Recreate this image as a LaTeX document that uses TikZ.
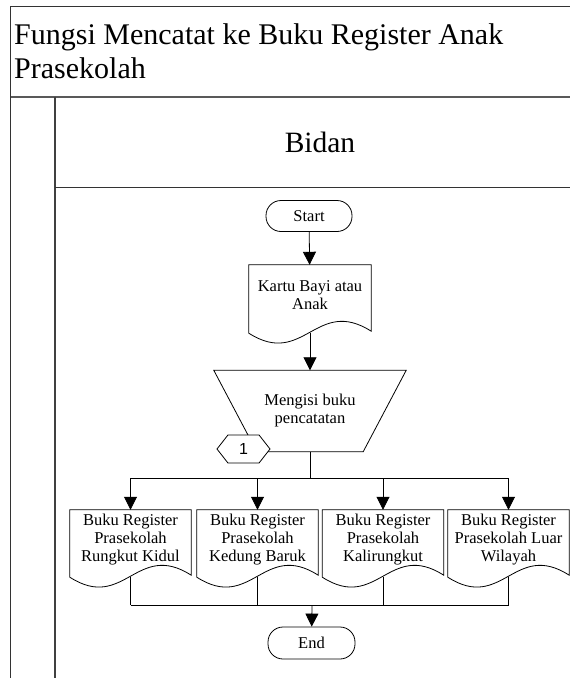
\documentclass[tikz,border=0pt]{standalone}
\usepackage{fontspec}
\setmainfont{Liberation Serif}
\newfontfamily\arialfont{Liberation Sans}
\usetikzlibrary{arrows.meta,calc,shapes.symbols}
\newcommand\docoutline[1]{%
  \draw[flow] (#1.north west) -- (#1.north east) -- ([yshift=-6pt]#1.south east)
    .. controls ($(#1.south west)!0.55!(#1.south east)+(0,29pt)$) and ($(#1.south west)!0.45!(#1.south east)+(0,-43pt)$) ..
    ([yshift=-8pt]#1.south west) -- cycle;}
\begin{document}
\begin{tikzpicture}[x=1pt,y=-1pt,
  frameline/.style={draw=black!80, line width=1pt},
  flow/.style={draw=black, line width=0.8pt},
  arr/.style={-{Triangle[width=13pt,length=13pt]}, draw=black, line width=0.8pt},
  txt/.style={font=\fontsize{16.5}{18}\selectfont, align=center},
  term/.style={txt, draw, line width=0.8pt, rounded corners=15pt, inner sep=0pt},
  docbox/.style={txt, inner sep=0pt, minimum width=121pt}
]
\useasboundingbox (0,0) rectangle (570,678);
% frame
\draw[frameline] (10.5,678) -- (10.5,6.5) -- (570,6.5);
\draw[draw=black!65, line width=2pt] (10.5,96.5) -- (570,96.5);
\draw[draw=black!75, line width=1.5pt] (55,96.5) -- (55,678);
\draw[frameline] (55,187) -- (570,187);
\node[anchor=north west, inner sep=0pt, align=left, font=\fontsize{30}{34}\selectfont] (title) at (14,23) {Fungsi Mencatat ke Buku Register Anak\\Prasekolah};
\node[font=\fontsize{29.5}{32}\selectfont] (bidan) at (320,142) {Bidan};
% flow
\node[term, minimum width=86pt, minimum height=31pt] (start) at (309,216) {Start};
\node[docbox, minimum height=60pt, minimum width=122pt] (kartu) at (310,295) {Kartu Bayi atau\\Anak};
\docoutline{kartu}
\node[txt, inner sep=0pt, minimum width=192pt, minimum height=81pt] (isi) at (310,411) {Mengisi buku\\pencatatan};
\draw[flow] (isi.north west) -- (isi.north east) -- ([xshift=-43pt]isi.south east) -- ([xshift=43pt]isi.south west) -- cycle;
\node[signal, signal to=west and east, signal pointer angle=104, draw, fill=white, line width=0.8pt, inner sep=0pt, minimum width=53pt, minimum height=28pt, font=\arialfont\fontsize{16}{18}\selectfont] (c1) at (243.5,449) {1};
\draw[arr] (start) -- (kartu);
\draw[arr] ([yshift=-8pt]kartu.south) -- (isi);
% documents
\node[docbox, minimum height=59pt] (d1) at (130.5,539.5) {Buku Register\\Prasekolah\\Rungkut Kidul};
\node[docbox, minimum height=59pt] (d2) at (257.5,539.5) {Buku Register\\Prasekolah\\Kedung Baruk};
\node[docbox, minimum height=59pt] (d3) at (383,539.5) {Buku Register\\Prasekolah\\Kalirungkut};
\node[docbox, minimum height=59pt] (d4) at (508.5,539.5) {Buku Register\\Prasekolah Luar\\Wilayah};
\foreach \d in {d1,d2,d3,d4} {\docoutline{\d}}
\coordinate (split) at (310,478);
\draw[flow] (isi.south) -- (split);
\draw[flow] (d1.north |- split) -- (d4.north |- split);
\foreach \d in {d1,d2,d3,d4} {\draw[arr] (\d.north |- split) -- (\d.north);}
\node[term, minimum width=87pt, minimum height=32pt] (end) at (311.5,643) {End};
\coordinate (merge) at (312,605);
\foreach \d in {d1,d2,d3,d4} {\draw[flow] ([yshift=-8pt]\d.south) -- (\d.south |- merge);}
\draw[flow] (d1.south |- merge) -- (d4.south |- merge);
\draw[arr] (merge) -- (end);
\end{tikzpicture}
\end{document}
